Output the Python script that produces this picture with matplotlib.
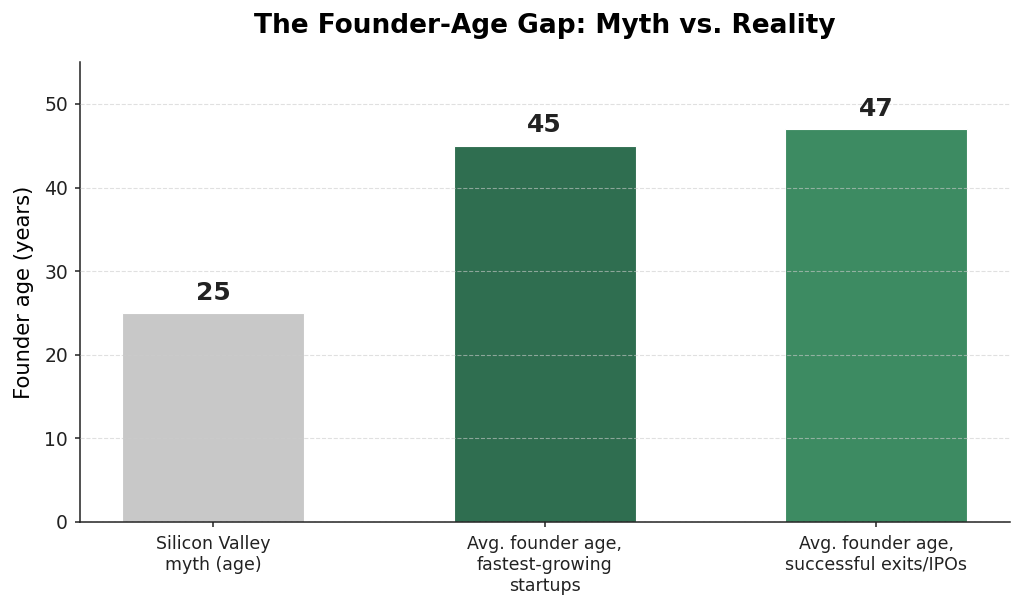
import matplotlib.pyplot as plt

categories = ["Silicon Valley\nmyth (age)",
              "Avg. founder age,\nfastest-growing\nstartups",
              "Avg. founder age,\nsuccessful exits/IPOs"]
ages = [25, 45, 47]
colors = ["#c8c8c8", "#2f6e50", "#3d8b62"]

fig, ax = plt.subplots(figsize=(10.24, 6.09), dpi=100)
fig.subplots_adjust(left=0.078, right=0.986, top=0.898, bottom=0.143)

bars = ax.bar(range(len(ages)), ages, width=0.55, color=colors,
              edgecolor="white", linewidth=0.8)
for b, v in zip(bars, ages):
    ax.text(b.get_x() + b.get_width() / 2, v + 1.0, str(v),
            ha="center", va="bottom", fontsize=18, fontweight="bold",
            color="#222222")

ax.set_xticks(range(len(ages)))
ax.set_xticklabels(categories, fontsize=12.5)
ax.set_ylim(0, 55)
ax.set_ylabel("Founder age (years)", fontsize=15.2, labelpad=7)
ax.tick_params(axis="y", labelsize=13.5, pad=5)
ax.tick_params(axis="x", pad=6)
ax.tick_params(colors="#222222", width=1.1)
ax.set_title("The Founder-Age Gap: Myth vs. Reality", fontsize=19,
             fontweight="bold", pad=21)
ax.grid(axis="y", linestyle="--", color="#cccccc", alpha=0.6)
ax.set_axisbelow(False)
ax.spines["top"].set_visible(False)
ax.spines["right"].set_visible(False)
for s in ("left", "bottom"):
    ax.spines[s].set_color("#222222")
    ax.spines[s].set_linewidth(1.1)

plt.savefig("out.png")
